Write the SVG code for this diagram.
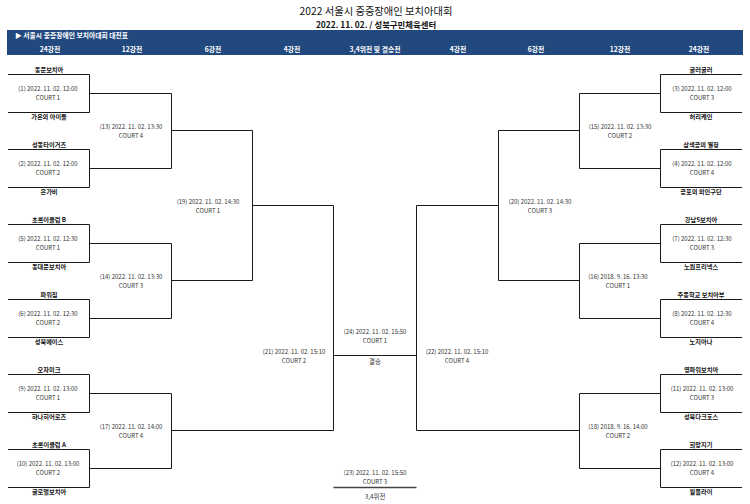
<svg xmlns="http://www.w3.org/2000/svg" width="750" height="504" viewBox="0 0 750 504">
<style>
text{font-family:"Noto Sans CJK KR","Noto Sans",sans-serif;text-anchor:middle;fill:#111}
.title{font-size:10.3px}
.sub{font-size:8.4px;font-weight:bold}
.hd{font-size:6.8px;font-weight:bold;fill:#fff}
.tm{font-size:6.2px;font-weight:bold}
.mt{font-size:6px;fill:#333}
.ln{fill:none;stroke:#1a1a1a;stroke-width:1}
</style>
<rect width="750" height="504" fill="#fff"/>
<g id="title">
<text class="title" x="376" y="15">2022 서울시 중증장애인 보치아대회</text>
<text class="sub" x="376" y="27.5">2022. 11. 02. / 성북구민체육센터</text>
</g>
<g id="header">
<rect x="7" y="30" width="736" height="25" fill="#21497e"/>
<text class="hd" x="15" y="38" style="text-anchor:start">▶ 서울시 중증장애인 보치아대회 대진표</text>
<text class="hd" x="50" y="52">24강전</text>
<text class="hd" x="132" y="52">12강전</text>
<text class="hd" x="213" y="52">6강전</text>
<text class="hd" x="292" y="52">4강전</text>
<text class="hd" x="375" y="52">3,4위전 및 결승전</text>
<text class="hd" x="458" y="52">4강전</text>
<text class="hd" x="536" y="52">6강전</text>
<text class="hd" x="620" y="52">12강전</text>
<text class="hd" x="699" y="52">24강전</text>
</g>
<g id="connectors" class="ln">
<path class="ln" d="M8,74.5H89.5V112.5H8M8,149.5H89.5V187.5H8M8,224.5H89.5V262.5H8M8,299.5H89.5V337.5H8M8,374.5H89.5V412.5H8M8,449.5H89.5V487.5H8"/>
<path class="ln" d="M89.5,93.5H171.5V168.5H89.5M89.5,243.5H171.5V318.5H89.5M89.5,393.5H171.5V468.5H89.5"/>
<path class="ln" d="M171.5,130.5H252.5V280.5H171.5M252.5,205.5H333.5V430.5H171.5"/>
<path class="ln" d="M742,74.5H660.5V112.5H742M742,149.5H660.5V187.5H742M742,224.5H660.5V262.5H742M742,299.5H660.5V337.5H742M742,374.5H660.5V412.5H742M742,449.5H660.5V487.5H742"/>
<path class="ln" d="M660.5,93.5H579.5V168.5H660.5M660.5,243.5H579.5V318.5H660.5M660.5,393.5H579.5V468.5H660.5"/>
<path class="ln" d="M579.5,130.5H498.5V280.5H579.5M498.5,205.5H416.5V430.5H579.5"/>
<path class="ln" d="M333.5,355.5H416.5"/>
<path class="ln" d="M333.5,487.5H416.5" style="stroke:#444;stroke-width:1.3"/>
</g>
<g id="m1"><text class="tm" x="49" y="72.3">동문보치아</text><text class="mt" x="48" y="91">(1) 2022. 11. 02. 12:00</text><text class="mt" x="48" y="100">COURT 1</text><text class="tm" x="49" y="119">가온의 아이들</text></g>
<g id="m2"><text class="tm" x="49" y="147.3">성동타이거즈</text><text class="mt" x="48" y="166">(2) 2022. 11. 02. 12:00</text><text class="mt" x="48" y="175">COURT 2</text><text class="tm" x="49" y="194">은가비</text></g>
<g id="m5"><text class="tm" x="49" y="222.3">초록이클럽 B</text><text class="mt" x="48" y="241">(5) 2022. 11. 02. 12:30</text><text class="mt" x="48" y="250">COURT 1</text><text class="tm" x="49" y="269">동대문보치아</text></g>
<g id="m6"><text class="tm" x="49" y="297.3">파워짐</text><text class="mt" x="48" y="316">(6) 2022. 11. 02. 12:30</text><text class="mt" x="48" y="325">COURT 2</text><text class="tm" x="49" y="344">성북에이스</text></g>
<g id="m9"><text class="tm" x="49" y="372.3">오자미크</text><text class="mt" x="48" y="391">(9) 2022. 11. 02. 13:00</text><text class="mt" x="48" y="400">COURT 1</text><text class="tm" x="49" y="419">하나히어로즈</text></g>
<g id="m10"><text class="tm" x="49" y="447.3">초록이클럽 A</text><text class="mt" x="48" y="466">(10) 2022. 11. 02. 13:00</text><text class="mt" x="48" y="475">COURT 2</text><text class="tm" x="49" y="494">글로벌보치아</text></g>
<g id="m3"><text class="tm" x="701" y="72.3">굴러굴러</text><text class="mt" x="702" y="91">(3) 2022. 11. 02. 12:00</text><text class="mt" x="702" y="100">COURT 3</text><text class="tm" x="701" y="119">허리케인</text></g>
<g id="m4"><text class="tm" x="701" y="147.3">삼색공의 열정</text><text class="mt" x="702" y="166">(4) 2022. 11. 02. 12:00</text><text class="mt" x="702" y="175">COURT 4</text><text class="tm" x="701" y="194">공포의 외인구단</text></g>
<g id="m7"><text class="tm" x="701" y="222.3">강남S보치아</text><text class="mt" x="702" y="241">(7) 2022. 11. 02. 12:30</text><text class="mt" x="702" y="250">COURT 3</text><text class="tm" x="701" y="269">노원프리넥스</text></g>
<g id="m8"><text class="tm" x="701" y="297.3">주몽학교 보치아부</text><text class="mt" x="702" y="316">(8) 2022. 11. 02. 12:30</text><text class="mt" x="702" y="325">COURT 4</text><text class="tm" x="701" y="344">노지아나</text></g>
<g id="m11"><text class="tm" x="701" y="372.3">영파워보치아</text><text class="mt" x="702" y="391">(11) 2022. 11. 02. 13:00</text><text class="mt" x="702" y="400">COURT 3</text><text class="tm" x="701" y="419">성북다크호스</text></g>
<g id="m12"><text class="tm" x="701" y="447.3">희망지기</text><text class="mt" x="702" y="466">(12) 2022. 11. 02. 13:00</text><text class="mt" x="702" y="475">COURT 4</text><text class="tm" x="701" y="494">윌플라이</text></g>
<g id="m13"><text class="mt" x="131" y="129">(13) 2022. 11. 02. 13:30</text><text class="mt" x="131" y="137.5">COURT 4</text></g>
<g id="m14"><text class="mt" x="131" y="279">(14) 2022. 11. 02. 13:30</text><text class="mt" x="131" y="287.5">COURT 3</text></g>
<g id="m17"><text class="mt" x="131" y="429">(17) 2022. 11. 02. 14:00</text><text class="mt" x="131" y="437.5">COURT 4</text></g>
<g id="m15"><text class="mt" x="620" y="129">(15) 2022. 11. 02. 13:30</text><text class="mt" x="620" y="137.5">COURT 2</text></g>
<g id="m16"><text class="mt" x="618" y="279">(16) 2018. 9. 16. 13:30</text><text class="mt" x="618" y="287.5">COURT 1</text></g>
<g id="m18"><text class="mt" x="618" y="429">(18) 2018. 9. 16. 14:00</text><text class="mt" x="618" y="437.5">COURT 2</text></g>
<g id="m19"><text class="mt" x="208" y="204">(19) 2022. 11. 02. 14:30</text><text class="mt" x="208" y="212.5">COURT 1</text></g>
<g id="m20"><text class="mt" x="540" y="204">(20) 2022. 11. 02. 14:30</text><text class="mt" x="540" y="212.5">COURT 3</text></g>
<g id="m21"><text class="mt" x="294" y="354">(21) 2022. 11. 02. 15:10</text><text class="mt" x="294" y="362.5">COURT 2</text></g>
<g id="m22"><text class="mt" x="457" y="354">(22) 2022. 11. 02. 15:10</text><text class="mt" x="457" y="362.5">COURT 4</text></g>
<g id="m24"><text class="mt" x="375" y="334">(24) 2022. 11. 02. 15:50</text><text class="mt" x="375" y="343">COURT 1</text><text class="mt" x="375" y="364" style="font-size:6.4px">결승</text></g>
<g id="m23"><text class="mt" x="375" y="475">(23) 2022. 11. 02. 15:50</text><text class="mt" x="375" y="484">COURT 3</text><text class="mt" x="375" y="499" style="font-size:6.4px">3,4위전</text></g>
</svg>
